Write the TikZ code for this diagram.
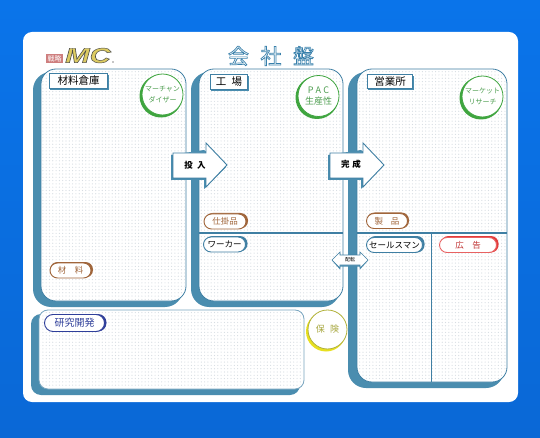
\documentclass[tikz,border=0pt]{standalone}
\usepackage{fontspec}
\usetikzlibrary{patterns,calc}
\setmainfont{Noto Sans CJK JP}
\newfontfamily\latinbold{Liberation Sans}
\definecolor{bgtop}{HTML}{0A74EA}
\definecolor{bgbot}{HTML}{0A68D6}
\definecolor{steel}{HTML}{4A8DAF}
\definecolor{edge}{HTML}{3F7FA3}
\definecolor{leaf}{HTML}{3FA53F}
\definecolor{leaftext}{HTML}{4E9E50}
\definecolor{brownish}{HTML}{A0653A}
\definecolor{navyish}{HTML}{2F3F9A}
\definecolor{redtag}{HTML}{E23B3B}
\definecolor{yel}{HTML}{E8E020}
\definecolor{olive}{HTML}{A8A840}
\definecolor{gold}{HTML}{DCCB62}
\definecolor{dotgray}{HTML}{D6DCE2}
\pgfdeclarepatternformonly{finedots}{\pgfqpoint{-1pt}{-1pt}}{\pgfqpoint{2.3pt}{2.3pt}}{\pgfqpoint{3.3pt}{3.3pt}}{%
  \pgfpathcircle{\pgfqpoint{0pt}{0pt}}{0.6pt}\pgfusepath{fill}}
\tikzset{
  x=1pt,y=-1pt,
  shadowpart/.style={fill=steel,draw=none},
  face/.style={fill=white,draw=edge,line width=0.8pt},
  dotsfill/.style={pattern=finedots,pattern color=dotgray},
  namebox/.style={draw=edge,line width=1pt,fill=white,inner sep=0pt,font=\fontsize{10.5}{11}\selectfont,text=black},
  pill/.style={rounded corners=7.5pt,fill=white,line width=0.9pt,inner sep=0pt,font=\fontsize{8.5}{10}\selectfont},
  ringtext/.style={align=center,inner sep=0pt,font=\fontsize{7}{10.5}\selectfont,text=leaftext},
  arrowbox/.style={fill=white,draw=edge,line width=0.9pt,line join=miter},
  arrowshade/.style={fill=steel,draw=none},
  arrowlabel/.style={inner sep=0pt,font=\bfseries\fontsize{8.5}{10}\selectfont,text=black},
}
\newcommand{\panelshape}[5]{%
  % #1 left shadow, #2 face left, #3 right, #4 bottom, #5 shadow right
  \fill[shadowpart,rounded corners=18pt] (#1,72) rectangle (#5,#4+6);
  \draw[face,rounded corners=15pt] (#2,69) rectangle (#3,#4);
  \fill[dotsfill,rounded corners=15pt] (#2+1,70) rectangle (#3-1,#4-1);
}
\begin{document}
\begin{tikzpicture}
\useasboundingbox (0,0) rectangle (540,438);
\shade[top color=bgtop,bottom color=bgbot] (0,0) rectangle (540,438);
\fill[white,rounded corners=9pt] (23,32) rectangle (518,402);

% panels
\panelshape{33}{41}{186}{301}{183}
\panelshape{191}{199}{343}{301}{340}
\panelshape{348}{357}{507}{382}{504}
% R&D panel
\fill[shadowpart,rounded corners=10pt] (31,314) rectangle (300,395);
\draw[face,draw=edge!70,rounded corners=9pt] (39,310) rectangle (304,389);
\fill[dotsfill,rounded corners=9pt] (40,311) rectangle (303,388);
% dividers
\draw[edge,line width=1.1pt] (199,233) -- (343,233);
\draw[edge,line width=1.1pt] (357,233) -- (507,233);
\draw[edge,line width=0.9pt] (431,233) -- (431,382);

% title
\node[inner sep=0pt,font=\fontsize{21}{24}\selectfont,text=white] (title) at (271,56)
  {\special{pdf:code 2 Tr 0.7 w 0.22 0.5 0.67 RG}会\hspace{0.55em}社\hspace{0.55em}盤\special{pdf:code 0 Tr}};

% logo
\node[fill=red!45!gray!70,inner sep=0pt,minimum width=17pt,minimum height=9pt,font=\fontsize{7}{7}\selectfont,text=white] (tag) at (54.5,59) {戦略};
\node[xscale=1.4,transform shape,inner sep=0pt,font=\latinbold\bfseries\itshape\fontsize{21}{21}\selectfont,text=gold] (logo) at (88,55.5)
  {\special{pdf:code 2 Tr 0.45 w 0.3 0.3 0.28 RG}MC\special{pdf:code 0 Tr}};
\fill[black!45] (113,62) circle (0.9);

% name boxes
\fill[steel] (50,75) rectangle (109,90);
\node[namebox,minimum width=58pt,minimum height=15pt] (b1) at (78.5,81) {材料倉庫};
\fill[steel] (211,76) rectangle (249,91);
\node[namebox,minimum width=37pt,minimum height=15pt] (b2) at (229,82) {工\hspace{0.5em}場};
\fill[steel] (368,76) rectangle (414,90.5);
\node[namebox,minimum width=45pt,minimum height=14pt] (b3) at (390,81.5) {営業所};

% green rings
\fill[leaf] (161,96) circle (21.5);
\node[circle,fill=white,draw=leaf,line width=0.8pt,minimum size=41pt,inner sep=0pt] (r1) at (162.5,94.5) {};
\node[ringtext] at (r1) {マーチャン\\ダイザー};
\fill[leaf] (317,97.5) circle (21.5);
\node[circle,fill=white,draw=leaf,line width=0.8pt,minimum size=41pt,inner sep=0pt] (r2) at (318.5,96) {};
\node[ringtext,font=\fontsize{9}{11.5}\selectfont] at (r2) {P\hspace{0.25em}A\hspace{0.25em}C\\生産性};
\fill[leaf] (481,98) circle (21.5);
\node[circle,fill=white,draw=leaf,line width=0.8pt,minimum size=41pt,inner sep=0pt] (r3) at (482.5,96.5) {};
\node[ringtext] at (r3) {マーケット\\リサーチ};

% big arrows
\fill[arrowshade] (171,155) -- (171,180) -- (204,180) -- (204,189) -- (226,167) -- (204,150) -- cycle;
\draw[arrowbox] (173,153) -- (206,153) -- (206,143) -- (227,165) -- (206,187) -- (206,178) -- (173,178) -- cycle;
\node[arrowlabel] (a1) at (195,165) {投\hspace{0.5em}入};
\fill[arrowshade] (328,155) -- (328,180) -- (361,180) -- (361,189) -- (382,167) -- (361,150) -- cycle;
\draw[arrowbox] (330,153) -- (363,153) -- (363,143) -- (384,165) -- (363,187) -- (363,178) -- (330,178) -- cycle;
\node[arrowlabel] (a2) at (351,164.5) {完\hspace{0.3em}成};

% small double arrow
\fill[arrowshade] (332,260.5) -- (340,253) -- (340,256) -- (360,256) -- (360,253) -- (368,260.5) -- (360,269.5) -- (360,266.5) -- (340,266.5) -- (340,269.5) -- cycle;
\draw[arrowbox,line width=0.6pt] (332,260) -- (340,252) -- (340,255) -- (360,255) -- (360,252) -- (368,260) -- (360,268) -- (360,265) -- (340,265) -- (340,268) -- cycle;
\node[arrowlabel,font=\fontsize{5}{6}\selectfont] (a3) at (350,260) {配転};

% pills
\fill[brownish,rounded corners=7.5pt] (50,262) rectangle (93,277.5);
\node[pill,draw=brownish,text=brownish,minimum width=41pt,minimum height=15pt] (p1) at (70.5,270.5) {材\hspace{1em}料};
\fill[brownish,rounded corners=7.5pt] (205,213) rectangle (248,228.5);
\node[pill,draw=brownish,text=brownish,minimum width=42pt,minimum height=15pt] (p2) at (225,221.5) {仕掛品};
\fill[brownish,rounded corners=7.5pt] (367,212.5) rectangle (409,228.5);
\node[pill,draw=brownish,text=brownish,minimum width=41pt,minimum height=15pt] (p3) at (387,221) {製\hspace{0.9em}品};
\fill[edge,rounded corners=7.5pt] (205,236) rectangle (247.5,251.5);
\node[pill,draw=edge,text=black,minimum width=42pt,minimum height=15pt] (p4) at (224.5,244.5) {ワーカー};
\fill[edge,rounded corners=7.5pt] (368,236) rectangle (424.5,252.5);
\node[pill,draw=edge,text=black,minimum width=56pt,minimum height=15pt] (p5) at (394.5,245) {セールスマン};
\fill[redtag,rounded corners=7.5pt] (441,236) rectangle (498.5,252.5);
\node[pill,draw=redtag!80,text=redtag!85!black,minimum width=57pt,minimum height=15pt] (p6) at (468,245) {広\hspace{1em}告};
\fill[navyish,rounded corners=8.5pt] (46,314) rectangle (106.5,331.5);
\node[pill,rounded corners=8.5pt,draw=navyish,text=navyish,font=\fontsize{10}{11}\selectfont,minimum width=60pt,minimum height=17pt] (p7) at (74.5,323) {研究開発};

% yellow ring
\fill[yel] (326,331.5) circle (20);
\node[circle,fill=white,draw=olive!90!yellow,line width=0.8pt,minimum size=39pt,inner sep=0pt] (r4) at (327.5,329.5) {};
\node[inner sep=0pt,text=olive,font=\fontsize{9}{11}\selectfont] at (r4) {保\hspace{0.6em}険};
\end{tikzpicture}
\end{document}
